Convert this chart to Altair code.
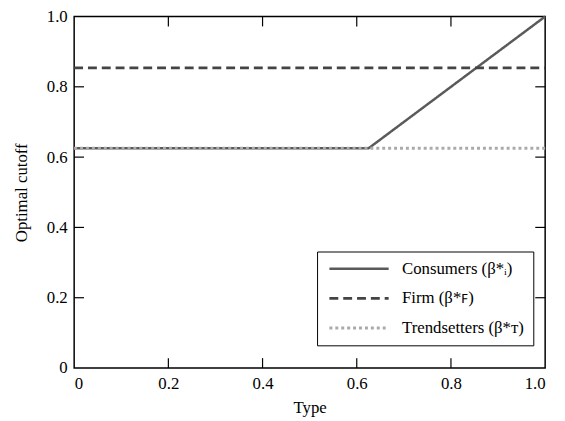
import altair as alt
import pandas as pd

FONT = "Liberation Serif"

series_names = ["Consumers (β*ᵢ)", "Firm (β*ꜰ)", "Trendsetters (β*ᴛ)"]
consumers_x = [0.0, 0.625, 1.0]
consumers_y = [0.625, 0.625, 1.0]
firm_x = [0.0, 1.0]
firm_y = [0.854, 0.854]
trend_x = [0.0, 1.0]
trend_y = [0.625, 0.625]
tick_values = [0.2, 0.4, 0.6, 0.8]

rows = []
for x, y in zip(consumers_x, consumers_y):
    rows.append({"type": x, "cutoff": y, "series": series_names[0], "o": 0})
for x, y in zip(firm_x, firm_y):
    rows.append({"type": x, "cutoff": y, "series": series_names[1], "o": 1})
for x, y in zip(trend_x, trend_y):
    rows.append({"type": x, "cutoff": y, "series": series_names[2], "o": 2})
df = pd.DataFrame(rows)
ticks = pd.DataFrame({"v": tick_values})

W, H = 477, 356
TL = 10

xscale = alt.Scale(domain=[0, 1], nice=False)
yscale = alt.Scale(domain=[0, 1], nice=False)
label_expr = "datum.value == 0 ? '0' : format(datum.value, '.1f')"

lines = alt.Chart(df).mark_line(strokeCap="butt").encode(
    x=alt.X("type:Q", scale=xscale, title="Type",
            axis=alt.Axis(values=[0, 0.2, 0.4, 0.6, 0.8, 1.0], labelExpr=label_expr,
                          labelFont=FONT, titleFont=FONT)),
    y=alt.Y("cutoff:Q", scale=yscale, title="Optimal cutoff",
            axis=alt.Axis(values=[0, 0.2, 0.4, 0.6, 0.8, 1.0], labelExpr=label_expr,
                          labelFont=FONT, titleFont=FONT)),
    color=alt.Color("series:N", sort=series_names,
                    scale=alt.Scale(domain=series_names, range=["#5a5a5a", "#444444", "#aaaaaa"]),
                    legend=alt.Legend(orient="none", legendX=246, legendY=238, title=None,
                                      strokeColor="black", fillColor="white", padding=9,
                                      cornerRadius=0,
                                      labelFont=FONT, labelFontSize=17, labelColor="black",
                                      symbolType="M-1,0H11", symbolSize=100,
                                      rowPadding=12, labelOffset=60)),
    strokeDash=alt.StrokeDash("series:N", sort=series_names,
                              scale=alt.Scale(domain=series_names, range=[[1, 0], [9, 5], [3, 3]]),
                              legend=None),
    strokeWidth=alt.StrokeWidth("series:N", sort=series_names,
                                scale=alt.Scale(domain=series_names, range=[2.5, 3, 3]),
                                legend=None),
    order="o:Q",
)

bottom_ticks = alt.Chart(ticks).mark_rule(color="black", strokeWidth=1.2).encode(
    x=alt.X("v:Q", scale=xscale), y=alt.value(H), y2=alt.value(H - TL))
top_ticks = alt.Chart(ticks).mark_rule(color="black", strokeWidth=1.2).encode(
    x=alt.X("v:Q", scale=xscale), y=alt.value(0), y2=alt.value(TL))
left_ticks = alt.Chart(ticks).mark_rule(color="black", strokeWidth=1.2).encode(
    y=alt.Y("v:Q", scale=yscale), x=alt.value(0), x2=alt.value(TL))
right_ticks = alt.Chart(ticks).mark_rule(color="black", strokeWidth=1.2).encode(
    y=alt.Y("v:Q", scale=yscale), x=alt.value(W), x2=alt.value(W - TL))

chart = alt.layer(bottom_ticks, top_ticks, left_ticks, right_ticks, lines).properties(
    width=W, height=H,
    autosize=alt.AutoSizeParams(type="none"),
    padding={"left": 67, "top": 6, "right": 12, "bottom": 49},
).configure(
    font=FONT
).configure_view(
    stroke="black", strokeWidth=1.5
).configure_axis(
    domain=False, grid=False, ticks=False,
    labelFont=FONT, labelFontSize=17, labelColor="black",
    titleFont=FONT, titleFontSize=17, titleColor="black", titleFontWeight="normal",
).configure_axisX(
    labelPadding=8, titlePadding=8,
).configure_axisY(
    labelPadding=7, titlePadding=16,
)

chart.save("out.html", embed_options={"renderer": "svg", "actions": False})
